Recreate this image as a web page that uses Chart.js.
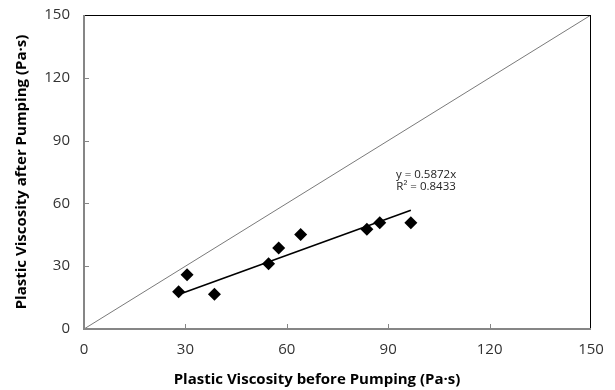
<!DOCTYPE html>
<html>
<head>
<meta charset="utf-8">
<script src="https://cdn.jsdelivr.net/npm/chart.js@4.4.1/dist/chart.umd.min.js"></script>
<style>
  html, body { margin: 0; padding: 0; background: #fff; }
  #wrap { width: 615px; height: 390px; }
</style>
</head>
<body>
<div id="wrap"><canvas id="pvChart" width="615" height="390"></canvas></div>
<script>
// plastic viscosity before / after pumping (Pa·s)
const pvBefore = [28.0, 30.5, 38.6, 54.6, 57.6, 64.1, 83.7, 87.5, 96.7];
const pvAfter  = [17.8, 25.9, 16.6, 31.2, 38.7, 45.2, 47.6, 50.8, 50.8];
const xTicks = [0, 30, 60, 90, 120, 150];
const yTicks = [0, 30, 60, 90, 120, 150];
const fitSlope = 0.5872;
const fitLabel = ['y = 0.5872x', 'R\u00b2 = 0.8433'];
const xTitle = 'Plastic Viscosity before Pumping (Pa\u00b7s)';
const yTitle = 'Plastic Viscosity after Pumping (Pa\u00b7s)';
const equalityLine = [{ x: 0, y: 0 }, { x: 150, y: 150 }];

const xMin = Math.min(...pvBefore);
const xMax = Math.max(...pvBefore);
const fitLine = [
  { x: xMin, y: fitSlope * xMin },
  { x: xMax, y: fitSlope * xMax }
];

const FONT = '"Open Sans", sans-serif';

// frame, inside tick marks, x title and the equation text
const framePlugin = {
  id: 'frame',
  afterDraw(chart) {
    const { ctx, chartArea: a, scales } = chart;
    ctx.save();
    ctx.strokeStyle = '#000';
    ctx.lineWidth = 1;
    ctx.strokeRect(a.left + 0.5, a.top + 0.5, a.right - a.left - 1, a.bottom - a.top - 1);

    ctx.strokeStyle = '#868686';
    ctx.lineWidth = 2;
    ctx.beginPath();
    ctx.moveTo(a.left, a.top);
    ctx.lineTo(a.left, a.bottom);
    ctx.lineTo(a.right, a.bottom);
    ctx.stroke();

    ctx.lineWidth = 1;
    ctx.beginPath();
    xTicks.slice(1, -1).forEach(v => {
      const px = Math.round(scales.x.getPixelForValue(v)) + 0.5;
      ctx.moveTo(px, a.bottom);
      ctx.lineTo(px, a.bottom - 5);
    });
    yTicks.slice(1, -1).forEach(v => {
      const py = Math.round(scales.y.getPixelForValue(v)) + 0.5;
      ctx.moveTo(a.left, py);
      ctx.lineTo(a.left + 5, py);
    });
    ctx.stroke();

    ctx.textAlign = 'center';
    ctx.textBaseline = 'middle';
    ctx.fillStyle = '#000';
    ctx.font = 'bold 15px ' + FONT;
    ctx.fillText(xTitle, a.left + 233, 380);

    ctx.fillStyle = '#222';
    ctx.font = '11.5px ' + FONT;
    const tx = scales.x.getPixelForValue(101.2);
    ctx.fillText(fitLabel[0], tx, scales.y.getPixelForValue(73.8));
    ctx.fillText(fitLabel[1], tx, scales.y.getPixelForValue(68.1));
    ctx.restore();
  }
};

const ctx = document.getElementById('pvChart');
new Chart(ctx, {
  type: 'scatter',
  data: {
    datasets: [
      {
        label: 'y = x',
        data: equalityLine,
        showLine: true,
        borderColor: '#7a7a7a',
        borderWidth: 1,
        pointRadius: 0,
        order: 3
      },
      {
        label: 'fit',
        data: fitLine,
        showLine: true,
        borderColor: '#000',
        borderWidth: 1.6,
        pointRadius: 0,
        order: 2
      },
      {
        label: 'PV',
        data: pvBefore.map((x, i) => ({ x, y: pvAfter[i] })),
        pointStyle: 'rectRot',
        pointRadius: 6.5,
        backgroundColor: '#000',
        borderColor: '#000',
        borderWidth: 0,
        order: 1
      }
    ]
  },
  options: {
    responsive: false,
    animation: false,
    layout: { padding: { left: 0, top: 15, right: 24, bottom: 0 } },
    plugins: {
      legend: { display: false },
      tooltip: { enabled: false }
    },
    scales: {
      x: {
        type: 'linear',
        min: 0,
        max: 150,
        afterBuildTicks: s => { s.ticks = xTicks.map(v => ({ value: v })); },
        afterFit: s => { s.height = 61; s.paddingLeft = 0; s.paddingRight = 0; },
        grid: { display: false, drawTicks: false },
        border: { display: false },
        ticks: {
          padding: 12,
          color: '#333',
          font: { family: FONT, size: 15 }
        }
      },
      y: {
        type: 'linear',
        min: 0,
        max: 150,
        afterBuildTicks: s => { s.ticks = yTicks.map(v => ({ value: v })); },
        afterFit: s => { s.width = 84; s.paddingTop = 0; s.paddingBottom = 0; },
        grid: { display: false, drawTicks: false },
        border: { display: false },
        ticks: {
          padding: 14,
          color: '#333',
          font: { family: FONT, size: 15 }
        },
        title: {
          display: true,
          text: yTitle,
          color: '#000',
          padding: { top: 13, bottom: 0 },
          font: { family: FONT, size: 15, weight: 'bold' }
        }
      }
    }
  },
  plugins: [framePlugin]
});
</script>
</body>
</html>
